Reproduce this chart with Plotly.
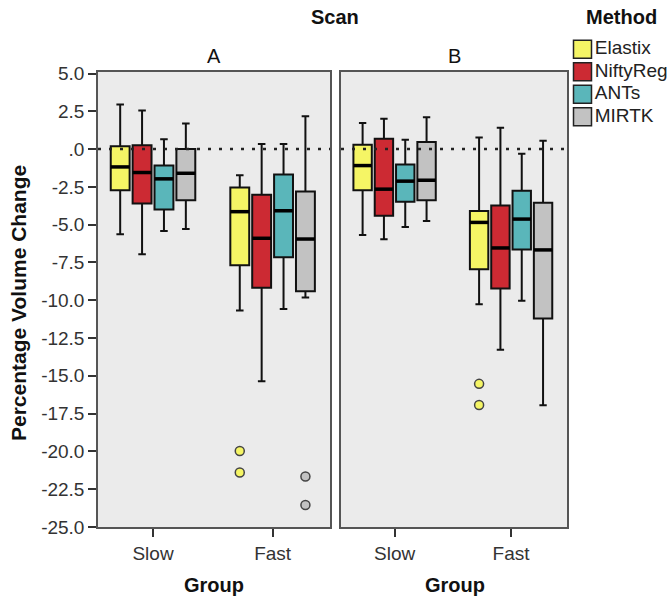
import plotly.graph_objects as go

# ---------------- data ----------------
groups = ["Slow", "Fast"]
scans = ["A", "B"]
methods = ["Elastix", "NiftyReg", "ANTs", "MIRTK"]
colors = ["#f5f565", "#cc2a33", "#5ab6ba", "#c2c2c2"]

# order of each stat list: A-Slow, A-Fast, B-Slow, B-Fast
elastix_upper = [2.95, -1.73, 1.72, 0.76]
elastix_q3 = [0.18, -2.54, 0.29, -4.10]
elastix_median = [-1.18, -4.14, -1.09, -4.85]
elastix_q1 = [-2.72, -7.68, -2.72, -7.95]
elastix_lower = [-5.64, -10.67, -5.68, -10.27]

niftyreg_upper = [2.56, 0.34, 2.00, 1.42]
niftyreg_q3 = [0.25, -3.02, 0.69, -3.73]
niftyreg_median = [-1.55, -5.90, -2.65, -6.54]
niftyreg_q1 = [-3.60, -9.18, -4.41, -9.22]
niftyreg_lower = [-6.96, -15.35, -5.97, -13.27]

ants_upper = [0.65, 0.34, 0.62, -0.30]
ants_q3 = [-1.09, -1.68, -1.02, -2.76]
ants_median = [-1.97, -4.08, -2.12, -4.63]
ants_q1 = [-3.99, -7.16, -3.48, -6.65]
ants_lower = [-5.42, -10.58, -5.15, -10.03]

mirtk_upper = [1.70, 2.18, 2.10, 0.56]
mirtk_q3 = [0.00, -2.80, 0.47, -3.55]
mirtk_median = [-1.60, -5.95, -2.06, -6.67]
mirtk_q1 = [-3.38, -9.40, -3.38, -11.20]
mirtk_lower = [-5.29, -9.81, -4.76, -16.95]

# outliers
outlier_scan = ["A", "A", "B"]
outlier_group = ["Fast", "Fast", "Fast"]
outlier_method = ["Elastix", "MIRTK", "Elastix"]
outlier_values = [[-19.97, -21.40], [-21.66, -23.55], [-15.53, -16.93]]

ytick_vals = [5.0, 2.5, 0.0, -2.5, -5.0, -7.5, -10.0, -12.5, -15.0, -17.5, -20.0, -22.5, -25.0]
ytick_text = ["5.0", "2.5", ".0", "-2.5", "-5.0", "-7.5", "-10.0", "-12.5", "-15.0", "-17.5", "-20.0", "-22.5", "-25.0"]

stats = {
    "Elastix": (elastix_lower, elastix_q1, elastix_median, elastix_q3, elastix_upper),
    "NiftyReg": (niftyreg_lower, niftyreg_q1, niftyreg_median, niftyreg_q3, niftyreg_upper),
    "ANTs": (ants_lower, ants_q1, ants_median, ants_q3, ants_upper),
    "MIRTK": (mirtk_lower, mirtk_q1, mirtk_median, mirtk_q3, mirtk_upper),
}

# ---------------- layout constants ----------------
W, H = 668, 598
FONT = "Liberation Sans, Arial, sans-serif"
spacing = 0.183
boxw = 0.158
axis_ids = {"A": ("x", "y"), "B": ("x2", "y2")}

fig = go.Figure()

for mi, m in enumerate(methods):
    lo, q1, med, q3, hi = stats[m]
    for si, s in enumerate(scans):
        xa, ya = axis_ids[s]
        idx = [si * 2, si * 2 + 1]
        pos = [gi + (mi - 1.5) * spacing for gi in range(len(groups))]
        fig.add_trace(go.Box(
            x=pos,
            q1=[q1[i] for i in idx], median=[med[i] for i in idx], q3=[q3[i] for i in idx],
            lowerfence=[lo[i] for i in idx], upperfence=[hi[i] for i in idx],
            width=boxw, whiskerwidth=0.4,
            fillcolor=colors[mi], line=dict(color="#111111", width=2),
            boxpoints=False, showlegend=False, name=m,
            xaxis=xa, yaxis=ya, hoverinfo="skip",
        ))
        # thicker median bar, drawn from the median values
        mx, my = [], []
        for p, i in zip(pos, idx):
            mx += [p - boxw / 2, p + boxw / 2, None]
            my += [med[i], med[i], None]
        fig.add_trace(go.Scatter(x=mx, y=my, mode="lines", line=dict(color="#000000", width=3.5),
                                 showlegend=False, xaxis=xa, yaxis=ya, hoverinfo="skip"))

for s, g, m, vals in zip(outlier_scan, outlier_group, outlier_method, outlier_values):
    xa, ya = axis_ids[s]
    mi = methods.index(m)
    p = groups.index(g) + (mi - 1.5) * spacing
    fig.add_trace(go.Scatter(
        x=[p] * len(vals), y=vals, mode="markers",
        marker=dict(color=colors[mi], size=9, line=dict(color="#444444", width=1.5)),
        showlegend=False, xaxis=xa, yaxis=ya, hoverinfo="skip",
    ))

# "Method" key: one swatch + label per method on its own small category axis
fig.add_trace(go.Scatter(
    x=[0] * len(methods), y=methods, mode="markers+text", text=methods,
    textposition="middle right", cliponaxis=False,
    textfont=dict(family=FONT, size=19, color="#222222"),
    marker=dict(symbol="square", size=18, color=colors, line=dict(color="#222222", width=1.5)),
    showlegend=False, xaxis="x3", yaxis="y3", hoverinfo="skip",
))

xdom_A = [98 / W, 330 / W]
xdom_B = [341 / W, 567 / W]
ydom = [1 - 527 / H, 1 - 72 / H]
xrange = [-0.46, 1.48]
yrange = [-25.0, 5.1]

common_x = dict(range=xrange, tickvals=list(range(len(groups))), ticktext=groups,
                ticks="outside", ticklen=8, tickwidth=1.5, tickcolor="#333333",
                showline=True, mirror=True, linecolor="#555555", linewidth=1.5,
                showgrid=False, zeroline=False, automargin=False,
                tickfont=dict(family=FONT, size=19, color="#333333"))
common_y = dict(range=yrange, tickvals=ytick_vals, ticktext=ytick_text,
                showline=True, mirror=True, linecolor="#555555", linewidth=1.5,
                showgrid=False, zeroline=False, domain=ydom, automargin=False)
hidden = dict(visible=False, showgrid=False, zeroline=False, fixedrange=True)

fig.update_layout(
    width=W, height=H,
    margin=dict(l=0, r=0, t=0, b=0, pad=0, autoexpand=False),
    paper_bgcolor="white", plot_bgcolor="#ebebeb",
    font=dict(family=FONT, size=16, color="#222222"),
    xaxis=dict(domain=xdom_A, anchor="y", **common_x),
    xaxis2=dict(domain=xdom_B, anchor="y2", **common_x),
    yaxis=dict(anchor="x", ticks="outside", ticklen=8, tickwidth=1.5, tickcolor="#333333",
               tickfont=dict(family=FONT, size=19, color="#333333"), **common_y),
    yaxis2=dict(anchor="x2", matches="y", showticklabels=False, ticks="", **common_y),
    xaxis3=dict(domain=[573 / W, 1.0], anchor="y3", range=[-0.5, 4.5], **hidden),
    yaxis3=dict(domain=[1 - 128 / H, 1 - 38 / H], anchor="x3", type="category",
                range=[len(methods) - 0.5, -0.5], **hidden),
    showlegend=False,
)
# keep the key area white
fig.add_shape(type="rect", xref="x3 domain", yref="y3 domain", x0=0, x1=1, y0=0, y1=1,
              fillcolor="white", line=dict(width=0), layer="below")

for xa in ["x", "x2"]:
    fig.add_shape(type="line", xref=f"{xa} domain", yref="y", x0=0, x1=1, y0=0, y1=0,
                  line=dict(color="#222222", width=2.5, dash="3px,8px"), layer="above")

ann = [
    dict(text="<b>Scan</b>", x=335 / W, y=1 - 17 / H, size=20),
    dict(text="<b>Method</b>", x=621 / W, y=1 - 17 / H, size=20),
    dict(text="A", x=(xdom_A[0] + xdom_A[1]) / 2, y=1 - 56 / H, size=20),
    dict(text="B", x=(xdom_B[0] + xdom_B[1]) / 2, y=1 - 56 / H, size=20),
    dict(text="<b>Group</b>", x=214 / W, y=1 - 585 / H, size=20),
    dict(text="<b>Group</b>", x=455 / W, y=1 - 585 / H, size=20),
]
for a in ann:
    sz = a.pop("size")
    fig.add_annotation(xref="paper", yref="paper", showarrow=False, xanchor="center", yanchor="middle",
                       font=dict(family=FONT, size=sz, color="#111111"), **a)
fig.add_annotation(text="<b>Percentage Volume Change</b>", xref="paper", yref="paper",
                   x=18 / W, y=1 - 303 / H, textangle=-90, showarrow=False,
                   xanchor="center", yanchor="middle",
                   font=dict(family=FONT, size=21, color="#111111"))

fig.write_html("out.html", config={"displayModeBar": False},
               post_script="document.body.style.margin='0';document.body.style.overflow='hidden';")
